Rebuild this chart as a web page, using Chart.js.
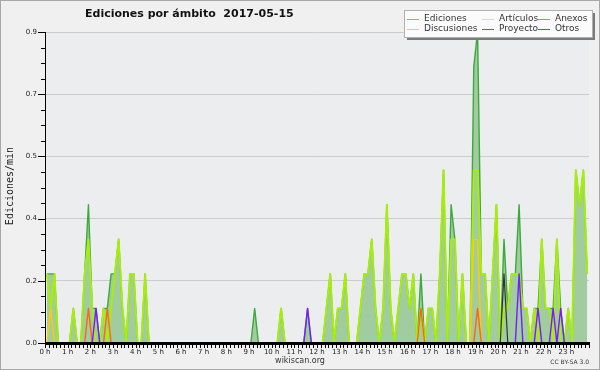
<!DOCTYPE html>
<html>
<head>
<meta charset="utf-8">
<title>Ediciones por ámbito 2017-05-15</title>
<script src="https://cdn.jsdelivr.net/npm/chart.js@4.4.1/dist/chart.umd.min.js"></script>
<style>
  html, body { margin: 0; padding: 0; background: #f0f0f0; }
  #wrap { position: relative; width: 600px; height: 370px; }
</style>
</head>
<body>
<div id="wrap"><canvas id="chart"></canvas></div>
<script>
// edits per minute, one value per 10-minute slot (6 slots per hour)
const ediciones = [
  0.2, 0.2, 0.2, 0, 0, 0,       // 0 h
  0, 0.1, 0, 0, 0.2, 0.4,       // 1 h
  0.1, 0.1, 0, 0.1, 0.1, 0.2,   // 2 h
  0.2, 0.3, 0.1, 0, 0.2, 0.2,   // 3 h
  0, 0, 0.2, 0, 0, 0,           // 4 h
  0, 0, 0, 0, 0, 0,             // 5 h
  0, 0, 0, 0, 0, 0,             // 6 h
  0, 0, 0, 0, 0, 0,             // 7 h
  0, 0, 0, 0, 0, 0,             // 8 h
  0, 0.1, 0, 0, 0, 0,           // 9 h
  0, 0, 0.1, 0, 0, 0,           // 10 h
  0, 0, 0, 0.1, 0, 0,           // 11 h
  0, 0, 0.1, 0.2, 0, 0.1,       // 12 h
  0.1, 0.2, 0, 0, 0, 0.1,       // 13 h
  0.2, 0.2, 0.3, 0.1, 0, 0.1,   // 14 h
  0.4, 0.1, 0, 0.1, 0.2, 0.2,   // 15 h
  0.1, 0.2, 0, 0.2, 0, 0.1,     // 16 h
  0.1, 0, 0.2, 0.5, 0, 0.4,     // 17 h
  0.3, 0, 0.2, 0, 0, 0.8,       // 18 h
  0.9, 0.2, 0.2, 0, 0.2, 0.4,   // 19 h
  0, 0.3, 0.1, 0.2, 0.2, 0.4,   // 20 h
  0.1, 0.1, 0, 0.1, 0.1, 0.3,   // 21 h
  0.1, 0.1, 0.1, 0.3, 0.1, 0,   // 22 h
  0.1, 0, 0.5, 0.4, 0.5, 0.2    // 23 h
];

const articulos = [
  0.2, 0.1, 0.2, 0, 0, 0,
  0, 0.1, 0, 0, 0.2, 0.3,
  0.1, 0, 0, 0.1, 0, 0.1,
  0.2, 0.3, 0.1, 0, 0.2, 0.2,
  0, 0, 0.2, 0, 0, 0,
  0, 0, 0, 0, 0, 0,
  0, 0, 0, 0, 0, 0,
  0, 0, 0, 0, 0, 0,
  0, 0, 0, 0, 0, 0,
  0, 0, 0, 0, 0, 0,
  0, 0, 0.1, 0, 0, 0,
  0, 0, 0, 0, 0, 0,
  0, 0, 0.1, 0.2, 0, 0.1,
  0.1, 0.2, 0, 0, 0, 0.1,
  0.2, 0.2, 0.3, 0.1, 0, 0.1,
  0.4, 0.1, 0, 0.1, 0.2, 0.2,
  0.1, 0.2, 0, 0.1, 0, 0.1,
  0.1, 0, 0.2, 0.5, 0, 0.3,
  0.3, 0, 0.2, 0, 0, 0.5,
  0.5, 0.2, 0.2, 0, 0.2, 0.4,
  0, 0.1, 0.1, 0.2, 0.2, 0.2,
  0.1, 0.1, 0, 0.1, 0, 0.3,
  0.1, 0.1, 0, 0.3, 0, 0,
  0.1, 0, 0.5, 0.4, 0.5, 0.2
];

// the small namespaces only show up in a few slots: [slot, edits/min]
const discusionesSlots = [[1, 0.1], [113, 0.3], [114, 0.3]];
const anexosSlots = [[11, 0.1], [16, 0.1], [99, 0.1], [114, 0.1]];
const proyectoSlots = [[121, 0.2]];
const otrosSlots = [[13, 0.1], [69, 0.1], [125, 0.2], [130, 0.1], [134, 0.1], [136, 0.1]];

const hourLabels = ['0 h', '1 h', '2 h', '3 h', '4 h', '5 h', '6 h', '7 h', '8 h', '9 h', '10 h', '11 h',
  '12 h', '13 h', '14 h', '15 h', '16 h', '17 h', '18 h', '19 h', '20 h', '21 h', '22 h', '23 h'];
const yTickLabels = ['0.0', '0.2', '0.4', '0.5', '0.7', '0.9'];

const SLOTS = 144;

function fromSlots(pairs) {
  const arr = new Array(SLOTS).fill(0);
  pairs.forEach(([s, v]) => { arr[s] = v; });
  return arr;
}

function toPoints(values) {
  // each slot is drawn at the middle of its 10 minutes
  return values.map((v, i) => ({ x: (i + 0.5) / 6, y: v }));
}

function lineSet(label, values, color, width, order) {
  return {
    label: label,
    data: toPoints(values),
    borderColor: color,
    backgroundColor: color,
    borderWidth: width,
    borderJoinStyle: 'round',
    pointRadius: 0,
    tension: 0,
    fill: false,
    order: order,
  };
}

const datasets = [
  Object.assign(lineSet('Ediciones', ediciones, '#3caa3c', 1.4, 6), {
    fill: 'origin',
    backgroundColor: '#a0cca0',
    legendColor: '#66cc66',
  }),
  Object.assign(lineSet('Artículos', articulos, '#a8ec10', 2, 5), { legendColor: '#ccff33' }),
  Object.assign(lineSet('Discusiones', fromSlots(discusionesSlots), '#ffcc00', 1.4, 4), { legendColor: '#ffcc33' }),
  Object.assign(lineSet('Proyecto', fromSlots(proyectoSlots), '#333333', 1.2, 3), { legendColor: '#666666' }),
  Object.assign(lineSet('Anexos', fromSlots(anexosSlots), '#ff6611', 1.4, 2), { legendColor: '#ff7733' }),
  Object.assign(lineSet('Otros', fromSlots(otrosSlots), '#7a1aff', 1.4, 1), { legendColor: '#9933ff' }),
];

const decor = {
  id: 'decor',
  beforeDraw(chart) {
    const { ctx, chartArea: a } = chart;
    ctx.save();
    ctx.fillStyle = '#f0f0f0';
    ctx.fillRect(0, 0, chart.width, chart.height);
    ctx.fillStyle = '#ecedef';
    ctx.fillRect(a.left, a.top, a.right - a.left, a.bottom - a.top);
    ctx.strokeStyle = '#a8a8a8';
    ctx.lineWidth = 1;
    ctx.strokeRect(0.5, 0.5, chart.width - 1, chart.height - 1);
    ctx.restore();
  },
  afterDraw(chart) {
    const { ctx, chartArea: a } = chart;
    const x = chart.scales.x;
    const y = chart.scales.y;
    ctx.save();

    // x axis line and 10 minute ticks
    ctx.fillStyle = '#000';
    ctx.fillRect(a.left, a.bottom - 1, a.right - a.left + 1, 3);
    for (let k = 0; k <= SLOTS; k++) {
      const px = Math.round(x.getPixelForValue(k / 6));
      ctx.fillRect(px, a.bottom + 2, 1, 3);
    }
    // y axis ticks, long on labelled values
    for (let k = 0; k <= 20; k++) {
      const py = Math.round(y.getPixelForValue(k * 0.045));
      const len = k % 4 === 0 ? 7 : 4;
      ctx.fillRect(a.left - len, py, len, 1);
    }

    // title
    ctx.fillStyle = '#111';
    ctx.font = 'bold 11px "DejaVu Sans"';
    ctx.textBaseline = 'middle';
    ctx.textAlign = 'left';
    ctx.fillText('Ediciones por ámbito  2017-05-15', 85, 14);

    // y axis title
    ctx.save();
    ctx.translate(10, 186);
    ctx.rotate(-Math.PI / 2);
    ctx.textAlign = 'center';
    ctx.font = '10px "DejaVu Sans Mono"';
    ctx.fillStyle = '#222';
    ctx.fillText('Ediciones/min', 0, 0);
    ctx.restore();

    // footer
    ctx.fillStyle = '#333';
    ctx.font = '8px "DejaVu Sans"';
    ctx.textAlign = 'center';
    ctx.fillText('wikiscan.org', 300, 361);
    ctx.font = '6px "DejaVu Sans"';
    ctx.textAlign = 'right';
    ctx.fillText('CC BY-SA 3.0', 589, 362);

    // legend box
    const bx = 404, by = 10, bw = 188, bh = 27;
    ctx.fillStyle = '#7a7a7a';
    ctx.fillRect(bx + 3, by + 3, bw, bh);
    ctx.fillStyle = '#fbfbfb';
    ctx.fillRect(bx, by, bw, bh);
    ctx.strokeStyle = '#b0b0b0';
    ctx.strokeRect(bx + 0.5, by + 0.5, bw, bh);

    const cols = [407, 482, 538];
    const rows = [19, 29];
    const layout = [['Ediciones', 0, 0], ['Artículos', 1, 0], ['Anexos', 2, 0],
      ['Discusiones', 0, 1], ['Proyecto', 1, 1], ['Otros', 2, 1]];
    ctx.font = '9px "DejaVu Sans"';
    ctx.textAlign = 'left';
    layout.forEach(([label, c, r]) => {
      const ds = chart.data.datasets.find(d => d.label === label);
      const lx = cols[c];
      const ly = rows[r];
      ctx.strokeStyle = ds.legendColor;
      ctx.lineWidth = 1;
      ctx.beginPath();
      ctx.moveTo(lx, ly + 0.5);
      ctx.lineTo(lx + 12, ly + 0.5);
      ctx.stroke();
      ctx.fillStyle = '#333';
      ctx.fillText(label, lx + 17, ly);
    });

    ctx.restore();
  }
};

new Chart(document.getElementById('chart'), {
  type: 'line',
  data: { datasets: datasets },
  options: {
    responsive: true,
    maintainAspectRatio: false,
    animation: false,
    layout: { padding: { top: 32, right: 11, left: 0, bottom: 0 } },
    plugins: {
      legend: { display: false },
      title: { display: false },
      tooltip: { enabled: false },
    },
    scales: {
      x: {
        type: 'linear',
        min: 0,
        max: 24,
        afterFit: (s) => { s.height = 27; },
        border: { display: false },
        grid: { display: false, drawTicks: false },
        ticks: {
          stepSize: 1,
          autoSkip: false,
          maxRotation: 0,
          padding: 5,
          color: '#222',
          font: { family: 'DejaVu Sans', size: 7 },
          callback: (v, i) => hourLabels[i] || '',
        },
      },
      y: {
        min: 0,
        max: 0.9,
        afterFit: (s) => { s.width = 45; },
        border: { display: true, color: '#000', width: 1 },
        grid: {
          drawTicks: false,
          color: (c) => (c.index === 0 ? 'rgba(0,0,0,0)' : '#cccccc'),
        },
        ticks: {
          stepSize: 0.18,
          padding: 8,
          color: '#222',
          font: { family: 'DejaVu Sans', size: 7 },
          callback: (v, i) => yTickLabels[i],
        },
      },
    },
  },
  plugins: [decor],
});
</script>
</body>
</html>
